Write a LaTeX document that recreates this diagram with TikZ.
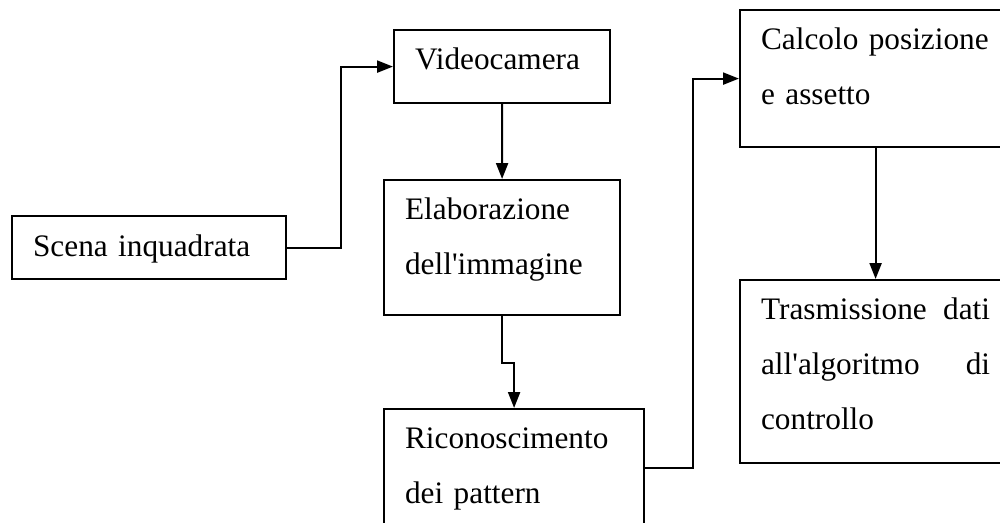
\documentclass[tikz,border=0pt]{standalone}
\usepackage{fontspec}
\setmainfont{Liberation Serif}
\usetikzlibrary{arrows.meta,calc,positioning}

\tikzset{
  blocco/.style={draw, line width=1.25pt, rectangle, anchor=north west,
    inner xsep=0.42cm, inner ysep=0pt, align=left, text height=0.78cm,
    font={\fontsize{17.8pt}{31.3pt}\selectfont}},
  freccia/.style={line width=1.25pt, -{Triangle[length=0.32cm,width=0.24cm]}}
}

\begin{document}
\begin{tikzpicture}
% Fix the page to the size of the picture
\clip (0,0) rectangle (20,-10.44);

% Draw the blocks of the chain
\node[blocco, text width=4.64cm, text height=0.80cm, text depth=0.46cm] (scena) at (0.22,-4.30) {Scena inquadrata};
\node[blocco, text width=3.48cm, text depth=0.68cm] (video) at (7.86,-0.58) {Videocamera};
\node[blocco, text width=3.88cm, text depth=1.92cm] (elab) at (7.66,-3.58) {Elaborazione\\dell\textquotesingle immagine};
\node[blocco, text width=4.36cm, text depth=1.58cm] (ric) at (7.66,-8.16) {Riconoscimento\\dei pattern};
\node[blocco, text width=4.58cm, text depth=1.96cm] (calc) at (14.78,-0.18) {Calcolo posizione\\e assetto};
\node[blocco, text width=4.58cm, text depth=2.88cm, align=justify] (trasm) at (14.78,-5.58) {Trasmissione dati\linebreak all\textquotesingle algoritmo di\linebreak controllo};

% Draw the connections between the blocks
\draw[freccia] (scena.east) -- ++(1.08,0) |- (video.west);
\draw[freccia] (video.south) -- (elab.north);
\draw[freccia] (elab.south) -- ++(0,-0.94) -| (ric.north);
\draw[freccia] (ric.east) -- ++(0.96,0) |- (calc.west);
\draw[freccia] (calc.south) -- (trasm.north);
\end{tikzpicture}
\end{document}
